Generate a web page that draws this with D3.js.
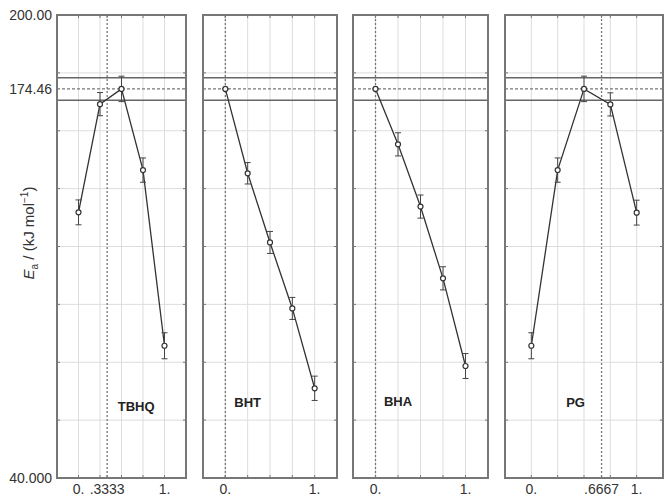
<!DOCTYPE html>
<html>
<head>
<meta charset="utf-8">
<script src="https://cdn.jsdelivr.net/npm/d3@7"></script>
<style>
  body { margin: 0; background: #fff; }
  text { font-family: Arial, "Liberation Sans", sans-serif; }
</style>
</head>
<body>
<div id="chart"></div>
<script>
var WD = 665, HT = 498

// data
var names = ["TBHQ", "BHT", "BHA", "PG"]
var xs = [0, 0.25, 0.5, 0.75, 1]
var tbhq = [131.8, 169.2, 174.46, 146.4, 85.7]
var bht = [174.46, 145.3, 121.4, 98.6, 71.0]
var bha = [174.46, 155.3, 133.8, 109.0, 78.7]
var pg = [85.7, 146.4, 174.46, 169.1, 131.7]
var errTbhq = [4.3, 4.0, 4.4, 4.2, 4.5]
var errBht = [0, 3.7, 3.8, 3.8, 4.2]
var errBha = [0, 4.0, 4.0, 4.0, 4.3]
var errPg = [4.5, 4.2, 4.4, 4.0, 4.3]
var optX = [0.3333, 0, 0, 0.6667]
var optLabels = [".3333", null, null, ".6667"]
var optY = 174.46, bandLo = 170.57, bandHi = 178.35
var yTicks = [40, 174.46, 200]
var yTickLabels = ["40.000", "174.46", "200.00"]
var yGrid = [60, 80, 100, 120, 140, 160, 180]
var xGrid = [0, 0.25, 0.5, 0.75, 1]
var labelPos = [[0.67, 63], [0.25, 64.5], [0.25, 65], [0.42, 64.5]]

var series = [tbhq, bht, bha, pg]
var errs = [errTbhq, errBht, errBha, errPg]

// panel frames
var panels = [
  { left: 57, right: 186 },
  { left: 203, right: 337 },
  { left: 353, right: 488 },
  { left: 505, right: 663 }
]
var plotTop = 15, plotBottom = 478

var svg = d3.select("#chart").append("svg")
    .attr("width", WD)
    .attr("height", HT)

var y = d3.scaleLinear().domain([40, 200]).range([plotBottom, plotTop])

// y axis labels
svg.selectAll(".ylab")
  .data(yTicks)
  .enter().append("text")
    .attr("x", 52)
    .attr("y", function(d){ return y(d) + 5; })
    .attr("text-anchor", "end")
    .attr("font-size", 14)
    .attr("fill", "#333")
    .text(function(d, i){ return yTickLabels[i]; })

// y title
var yt = svg.append("text")
    .attr("transform", "translate(34,233) rotate(-90)")
    .attr("text-anchor", "middle")
    .attr("font-size", 15)
    .attr("fill", "#333")
yt.append("tspan").attr("font-style", "italic").text("E")
yt.append("tspan").attr("font-size", 10).attr("dy", 4).text("a")
yt.append("tspan").attr("dy", -4).text(" / (kJ mol")
yt.append("tspan").attr("font-size", 10).attr("dy", -6).text("\u22121")
yt.append("tspan").attr("dy", 6).text(")")

panels.forEach(function(p, k) {
  var x = d3.scaleLinear().domain([-0.25, 1.25]).range([p.left, p.right])
  var g = svg.append("g")

  // grid
  g.selectAll(".gx").data(xGrid).enter().append("line")
    .attr("x1", function(d){ return x(d); }).attr("x2", function(d){ return x(d); })
    .attr("y1", plotTop).attr("y2", plotBottom)
    .attr("stroke", "#ddd").attr("stroke-width", 1)
  g.selectAll(".gy").data(yGrid).enter().append("line")
    .attr("x1", p.left).attr("x2", p.right)
    .attr("y1", function(d){ return y(d); }).attr("y2", function(d){ return y(d); })
    .attr("stroke", "#ddd").attr("stroke-width", 1)

  // small ticks on the frame
  var tx = xGrid.concat([optX[k]])
  tx.forEach(function(d) {
    g.append("line").attr("x1", x(d)).attr("x2", x(d)).attr("y1", plotBottom).attr("y2", plotBottom - 3)
      .attr("stroke", "#777")
    g.append("line").attr("x1", x(d)).attr("x2", x(d)).attr("y1", plotTop).attr("y2", plotTop + 3)
      .attr("stroke", "#777")
  })
  yGrid.forEach(function(d) {
    g.append("line").attr("x1", p.left).attr("x2", p.left + 3).attr("y1", y(d)).attr("y2", y(d))
      .attr("stroke", "#777")
    g.append("line").attr("x1", p.right).attr("x2", p.right - 3).attr("y1", y(d)).attr("y2", y(d))
      .attr("stroke", "#777")
  })

  // band around optimum
  ;[bandLo, bandHi].forEach(function(v) {
    g.append("line").attr("x1", p.left).attr("x2", p.right)
      .attr("y1", y(v)).attr("y2", y(v))
      .attr("stroke", "#666").attr("stroke-width", 1.5)
  })
  g.append("line").attr("x1", p.left).attr("x2", p.right)
    .attr("y1", y(optY)).attr("y2", y(optY))
    .attr("stroke", "#777").attr("stroke-width", 1.3).attr("stroke-dasharray", "3,2")
  g.append("line").attr("x1", x(optX[k])).attr("x2", x(optX[k]))
    .attr("y1", plotTop).attr("y2", plotBottom)
    .attr("stroke", "#777").attr("stroke-width", 1.3).attr("stroke-dasharray", "2,2")

  // frame
  g.append("rect")
    .attr("x", p.left).attr("y", plotTop)
    .attr("width", p.right - p.left).attr("height", plotBottom - plotTop)
    .attr("fill", "none").attr("stroke", "#777").attr("stroke-width", 2)

  // line + error bars + points
  var pts = xs.map(function(d, i){ return [d, series[k][i], errs[k][i]]; })
  var line = d3.line().x(function(d){ return x(d[0]); }).y(function(d){ return y(d[1]); })
  g.append("path").datum(pts)
    .attr("d", line).attr("fill", "none")
    .attr("stroke", "#333").attr("stroke-width", 1.3)

  var eb = g.selectAll(".eb").data(pts).enter().append("g")
  eb.append("line")
    .attr("x1", function(d){ return x(d[0]); }).attr("x2", function(d){ return x(d[0]); })
    .attr("y1", function(d){ return y(d[1] + d[2]); }).attr("y2", function(d){ return y(d[1] - d[2]); })
    .attr("stroke", "#444").attr("stroke-width", 1)
  ;[1, -1].forEach(function(s) {
    eb.append("line")
      .attr("x1", function(d){ return x(d[0]) - 3; }).attr("x2", function(d){ return x(d[0]) + 3; })
      .attr("y1", function(d){ return y(d[1] + s * d[2]); }).attr("y2", function(d){ return y(d[1] + s * d[2]); })
      .attr("stroke", "#444").attr("stroke-width", 1)
  })
  eb.append("circle")
    .attr("cx", function(d){ return x(d[0]); }).attr("cy", function(d){ return y(d[1]); })
    .attr("r", 2.5).attr("fill", "#fff").attr("stroke", "#333").attr("stroke-width", 1.2)

  // x labels
  var xl = [[0, "0."], [1, "1."]]
  if (optLabels[k]) xl.push([optX[k], optLabels[k]])
  g.selectAll(".xl").data(xl).enter().append("text")
    .attr("x", function(d){ return x(d[0]); })
    .attr("y", 494)
    .attr("text-anchor", "middle")
    .attr("font-size", 14)
    .attr("fill", "#333")
    .text(function(d){ return d[1]; })

  // panel name
  g.append("text")
    .attr("x", x(labelPos[k][0])).attr("y", y(labelPos[k][1]))
    .attr("text-anchor", "middle")
    .attr("font-size", 13).attr("font-weight", "bold")
    .attr("fill", "#222")
    .text(names[k])
})
</script>
</body>
</html>
